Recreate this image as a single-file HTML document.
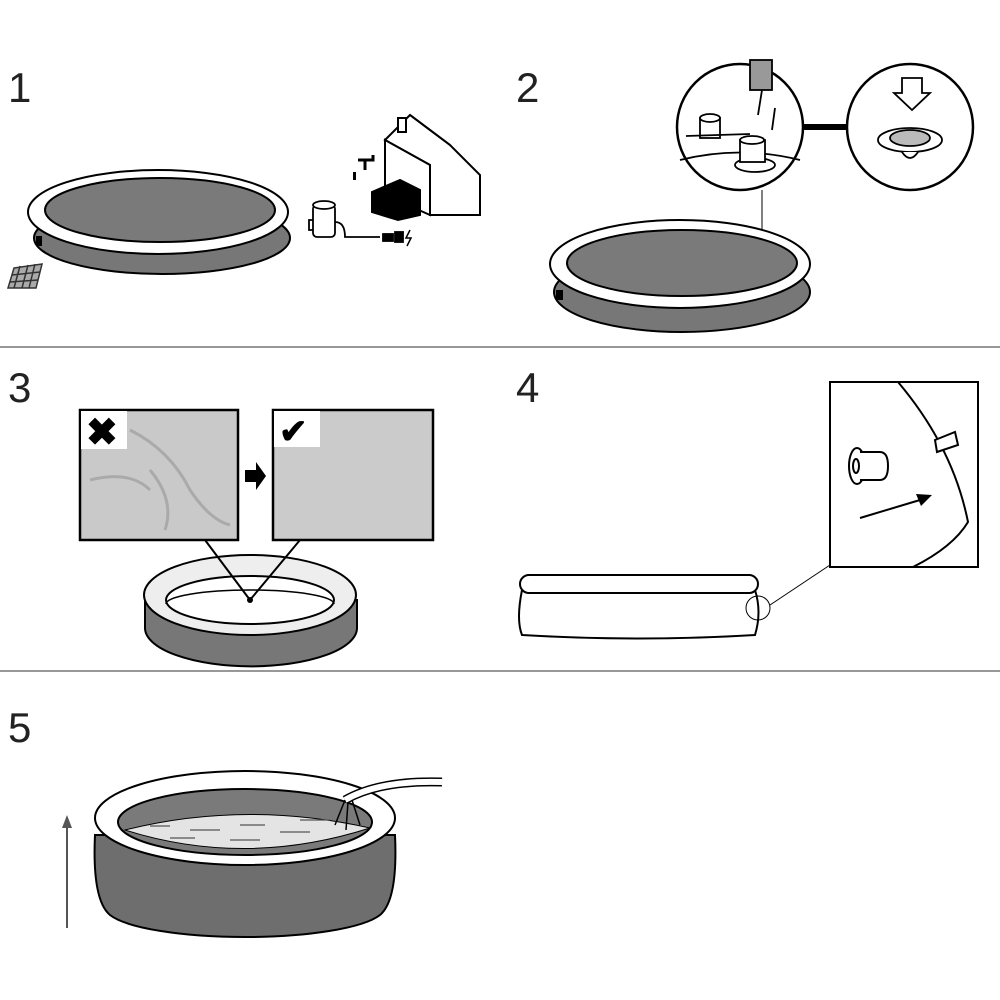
<!DOCTYPE html>
<html><head><meta charset="utf-8"><style>
html,body{margin:0;padding:0;background:#fff;}
svg{display:block}
text{font-family:"Liberation Sans",sans-serif;}
</style></head><body>
<svg width="1000" height="1000" viewBox="0 0 1000 1000" xmlns="http://www.w3.org/2000/svg">
<rect width="1000" height="1000" fill="#fff"/>
<!-- dividers -->
<line x1="0" y1="347" x2="1000" y2="347" stroke="#777" stroke-width="1.5"/>
<line x1="0" y1="671" x2="1000" y2="671" stroke="#777" stroke-width="1.5"/>
<!-- numbers -->
<g font-size="42" fill="#222">
<text x="8" y="102">1</text><text x="516" y="102">2</text>
<text x="8" y="402">3</text><text x="516" y="402">4</text>
<text x="8" y="742">5</text></g>

<!-- Panel 1 -->
<g stroke="#000" stroke-width="2">
<ellipse cx="162" cy="238" rx="128" ry="36" fill="#777"/>
<ellipse cx="158" cy="212" rx="130" ry="42" fill="#fff"/>
<ellipse cx="160" cy="210" rx="115" ry="32" fill="#7a7a7a"/>
</g>
<rect x="36" y="236" width="6" height="10" fill="#000"/>
<g stroke="#333" stroke-width="1.5">
<polygon points="14,268 42,264 36,288 8,288" fill="#aaa"/>
<line x1="20" y1="266" x2="14" y2="288"/><line x1="28" y1="265" x2="22" y2="288"/><line x1="35" y1="264" x2="29" y2="288"/>
<line x1="12" y1="275" x2="40" y2="272"/><line x1="10" y1="282" x2="38" y2="280"/></g>
<!-- house -->
<g stroke="#000" stroke-width="2" fill="#fff">
<polygon points="385,140 410,115 450,145 480,175 480,215 430,215 430,165"/>
<polygon points="385,140 430,165 430,215 385,195" fill="#fff"/>
<line x1="410" y1="115" x2="450" y2="145"/>
<rect x="398" y="118" width="8" height="14"/>
<polygon points="372,192 400,180 420,190 420,215 398,220 372,212" fill="#000"/>
</g>
<path d="M358 160 h15 v-5 M365 160 v10" stroke="#000" stroke-width="3" fill="none"/>
<rect x="353" y="172" width="3" height="8" fill="#000"/>
<!-- pump -->
<g stroke="#000" stroke-width="1.8" fill="#fff">
<rect x="313" y="205" width="22" height="32" rx="4"/>
<ellipse cx="324" cy="205" rx="11" ry="4"/>
<path d="M335 222 q10 0 10 15 h35" fill="none"/>
<path d="M313 220 h-4 v10 h4" fill="none"/>
<rect x="383" y="234" width="10" height="7" fill="#000"/>
<rect x="395" y="232" width="8" height="10" fill="#000"/>
</g>
<path d="M410 230 l-4 8 h5 l-4 8" stroke="#000" stroke-width="1.5" fill="none"/>

<!-- Panel 2 -->
<g stroke="#000" stroke-width="2">
<ellipse cx="682" cy="292" rx="128" ry="40" fill="#777"/>
<ellipse cx="680" cy="264" rx="130" ry="44" fill="#fff"/>
<ellipse cx="682" cy="263" rx="115" ry="33" fill="#7a7a7a"/>
</g>
<rect x="556" y="290" width="7" height="10" fill="#000"/>
<line x1="762" y1="190" x2="762" y2="230" stroke="#000" stroke-width="1"/>
<line x1="800" y1="127" x2="848" y2="127" stroke="#000" stroke-width="6"/>
<circle cx="740" cy="127" r="63" fill="#fff" stroke="#000" stroke-width="2.5"/>
<circle cx="910" cy="127" r="63" fill="#fff" stroke="#000" stroke-width="2.5"/>
<g stroke="#000" stroke-width="1.8" fill="#fff">
<path d="M680 160 q60 -15 120 0" fill="none"/>
<ellipse cx="755" cy="165" rx="20" ry="7"/>
<rect x="740" y="140" width="25" height="22"/>
<ellipse cx="752" cy="140" rx="12" ry="4"/>
<rect x="700" y="118" width="20" height="20"/>
<ellipse cx="710" cy="118" rx="10" ry="4"/>
<line x1="686" y1="136" x2="750" y2="134"/>
<rect x="750" y="60" width="22" height="30" fill="#999"/>
<line x1="762" y1="90" x2="758" y2="115"/>
<line x1="775" y1="108" x2="772" y2="130"/>
<polygon points="902,78 922,78 922,93 930,93 912,110 894,93 902,93"/>
<ellipse cx="910" cy="140" rx="32" ry="12"/>
<ellipse cx="910" cy="138" rx="20" ry="8" fill="#bbb"/>
<path d="M902 152 q8 12 16 0" />
</g>

<!-- Panel 3 -->
<rect x="80" y="410" width="158" height="130" fill="#c9c9c9" stroke="#000" stroke-width="2.5"/>
<rect x="273" y="410" width="160" height="130" fill="#cbcbcb" stroke="#000" stroke-width="2.5"/>
<g stroke="#aaa" stroke-width="3" fill="none">
<path d="M130 430 q40 20 60 60 q20 30 40 35"/><path d="M90 480 q40 -10 60 10"/><path d="M150 470 q25 30 15 60"/></g>
<rect x="81" y="411" width="46" height="38" fill="#fff"/>
<text x="86" y="445" font-size="38" font-weight="bold" fill="#000">✖</text>
<rect x="274" y="411" width="46" height="36" fill="#fff"/>
<text x="279" y="443" font-size="34" font-weight="bold" fill="#000">✔</text>
<polygon points="245,470 256,470 256,462 266,476 256,490 256,482 245,482" fill="#000"/>
<g stroke="#000" stroke-width="2">
<path d="M145 600 L145 628 A105 38 0 0 0 357 628 L357 600 Z" fill="#777"/>
<ellipse cx="250" cy="595" rx="106" ry="40" fill="#eee"/>
<ellipse cx="250" cy="600" rx="84" ry="24" fill="#fff"/>
<path d="M166 604 a84 14 0 0 1 168 0" fill="none" stroke-width="1.5"/>
<line x1="205" y1="540" x2="250" y2="600"/><line x1="300" y1="540" x2="250" y2="600"/>
</g>
<circle cx="250" cy="600" r="3" fill="#000"/>

<!-- Panel 4 -->
<g stroke="#000" stroke-width="2" fill="#fff">
<path d="M522 590 Q516 620 522 635 Q640 642 755 635 Q762 612 755 590"/>
<rect x="520" y="575" width="238" height="18" rx="9"/>
<circle cx="758" cy="608" r="12" fill="none" stroke-width="1"/>
<line x1="770" y1="605" x2="830" y2="565" stroke-width="1"/>
<rect x="830" y="382" width="148" height="185"/>
<path d="M898 382 q55 65 70 140 q-15 25 -55 45" fill="none"/>
<polygon points="935,440 955,432 958,445 937,452"/>
<ellipse cx="857" cy="466" rx="8" ry="18"/>
<path d="M860 452 h20 q8 0 8 14 q0 14 -8 14 h-20" />
<ellipse cx="856" cy="466" rx="3" ry="7"/>
<line x1="860" y1="518" x2="920" y2="500"/>
</g>
<polygon points="916,494 932,495 921,506" fill="#000"/>

<!-- Panel 5 -->
<g stroke="#000" stroke-width="2">
<path d="M95 835 Q92 900 110 915 A140 30 0 0 0 380 915 Q398 900 395 835 Z" fill="#6e6e6e"/>
<ellipse cx="245" cy="818" rx="150" ry="47" fill="#fff"/>
<ellipse cx="245" cy="822" rx="127" ry="33" fill="#7a7a7a"/>
<path d="M125 830 Q245 800 370 828 Q245 868 125 830 Z" fill="#e4e4e4" stroke-width="1"/>
</g>
<g stroke="#555" stroke-width="1.2">
<line x1="150" y1="826" x2="170" y2="826"/><line x1="190" y1="830" x2="220" y2="830"/><line x1="240" y1="825" x2="265" y2="825"/><line x1="280" y1="832" x2="310" y2="832"/><line x1="170" y1="838" x2="195" y2="838"/><line x1="230" y1="840" x2="260" y2="840"/><line x1="300" y1="820" x2="330" y2="820"/></g>
<path d="M345 800 Q380 780 442 782" stroke="#000" stroke-width="9" fill="none"/>
<path d="M345 800 Q380 780 442 782" stroke="#fff" stroke-width="6" fill="none"/>
<path d="M345 800 l-10 25 M348 802 l-2 28 M352 800 l8 25" stroke="#000" stroke-width="1.5"/>
<line x1="67" y1="928" x2="67" y2="822" stroke="#555" stroke-width="2"/>
<polygon points="62,828 67,815 72,828" fill="#555"/>
</svg>
</body></html>
